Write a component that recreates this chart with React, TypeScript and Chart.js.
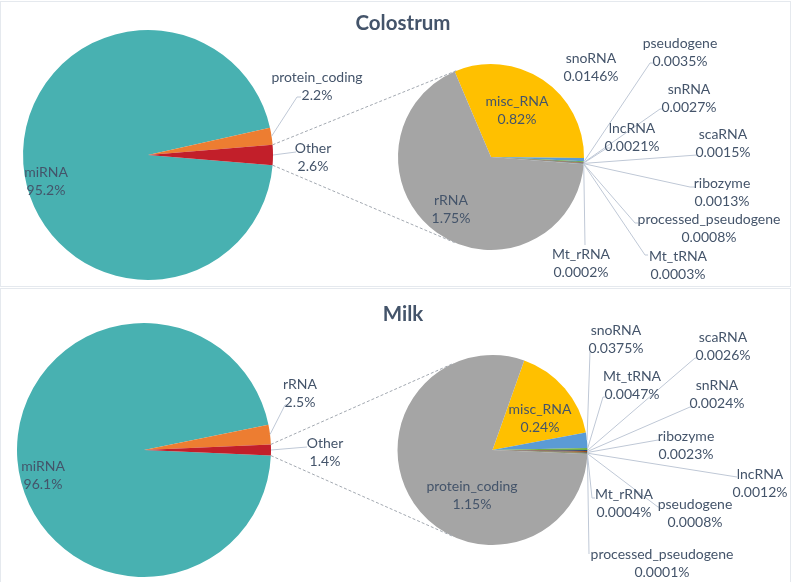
import React, { useEffect, useRef } from "react";
import { Chart, registerables } from "chart.js";

Chart.register(...registerables);

const W = 793;
const H = 582;

// ---------- Colostrum ----------
const colTitle = "Colostrum";
const colMainNames = ["miRNA", "protein_coding", "Other"];
const colMainValues = [95.2, 2.2, 2.6];
const colMainTexts = ["95.2%", "2.2%", "2.6%"];

const colSubNames = ["misc_RNA", "snoRNA", "pseudogene", "snRNA", "lncRNA", "scaRNA", "ribozyme", "processed_pseudogene", "Mt_tRNA", "Mt_rRNA", "rRNA"];
const colSubValues = [0.82, 0.0146, 0.0035, 0.0027, 0.0021, 0.0015, 0.0013, 0.0008, 0.0003, 0.0002, 1.75];
const colSubTexts = ["0.82%", "0.0146%", "0.0035%", "0.0027%", "0.0021%", "0.0015%", "0.0013%", "0.0008%", "0.0003%", "0.0002%", "1.75%"];

// ---------- Milk ----------
const milkTitle = "Milk";
const milkMainNames = ["miRNA", "rRNA", "Other"];
const milkMainValues = [96.1, 2.5, 1.4];
const milkMainTexts = ["96.1%", "2.5%", "1.4%"];

const milkSubNames = ["misc_RNA", "snoRNA", "Mt_tRNA", "scaRNA", "snRNA", "ribozyme", "lncRNA", "pseudogene", "Mt_rRNA", "processed_pseudogene", "protein_coding"];
const milkSubValues = [0.24, 0.0375, 0.0047, 0.0026, 0.0024, 0.0023, 0.0012, 0.0008, 0.0004, 0.0001, 1.15];
const milkSubTexts = ["0.24%", "0.0375%", "0.0047%", "0.0026%", "0.0024%", "0.0023%", "0.0012%", "0.0008%", "0.0004%", "0.0001%", "1.15%"];

// ---------- styles ----------
const FONT = "Lato, 'Open Sans', sans-serif";
const TEXT_COLOR = "#44546A";
const LEADER_COLOR = "#BFC8D6";
const CONNECTOR_COLOR = "#A3A9B1";
const MAIN_COLORS = ["#48B1B1", "#ED7D31", "#C21F2A"];
const SMALL_COLORS = ["#5B9BD5", "#70AD47", "#264478", "#9E480E", "#636363", "#997300", "#255E91", "#43682B", "#698ED0"];
const SUB_COLORS = ["#FFC000", ...SMALL_COLORS, "#A5A5A5"];

type Spot = { i: number; x: number; y: number; lead?: number[][] };

type PieLayout = { cx: number; cy: number; r: number; rotation: number };

const colMainLayout: PieLayout = { cx: 148, cy: 155, r: 125, rotation: 90 + (colMainValues[2] / 100) * 180 };
const colSubLayout: PieLayout = { cx: 491, cy: 157, r: 93, rotation: -23 };
const milkMainLayout: PieLayout = { cx: 144, cy: 450, r: 127, rotation: 90 + (milkMainValues[2] / 100) * 180 };
const milkSubLayout: PieLayout = { cx: 492.5, cy: 450, r: 95, rotation: 19.5 };

const colMainSpots: Spot[] = [
  { i: 0, x: 46, y: 172 },
  { i: 1, x: 317, y: 77, lead: [[297, 97], [301, 97]] },
  { i: 2, x: 313, y: 148, lead: [[296, 152]] },
];
const colSubSpots: Spot[] = [
  { i: 0, x: 517, y: 101 },
  { i: 10, x: 451, y: 200 },
  { i: 1, x: 591, y: 58 },
  { i: 2, x: 680, y: 43, lead: [[650, 63], [654, 63]] },
  { i: 3, x: 689, y: 89, lead: [[660, 109], [663, 109]] },
  { i: 4, x: 632, y: 128, lead: [[607, 148], [610, 148]] },
  { i: 5, x: 723, y: 134, lead: [[697, 155]] },
  { i: 6, x: 722, y: 183, lead: [[690, 187], [695, 187]] },
  { i: 7, x: 709, y: 219, lead: [[635, 223], [638, 223]] },
  { i: 8, x: 678, y: 256, lead: [[645, 255], [648, 255]] },
  { i: 9, x: 581, y: 254, lead: [[585, 245]] },
];
const milkMainSpots: Spot[] = [
  { i: 0, x: 43, y: 466 },
  { i: 1, x: 300, y: 384, lead: [[285, 405], [288, 405]] },
  { i: 2, x: 325, y: 443, lead: [[307, 447]] },
];
const milkSubSpots: Spot[] = [
  { i: 0, x: 540, y: 409 },
  { i: 10, x: 472, y: 486 },
  { i: 1, x: 616, y: 330, lead: [[590, 352]] },
  { i: 2, x: 632, y: 376, lead: [[603, 397], [606, 397]] },
  { i: 3, x: 723, y: 337, lead: [[695, 358], [698, 358]] },
  { i: 4, x: 717, y: 385, lead: [[690, 407], [693, 407]] },
  { i: 5, x: 686, y: 436, lead: [[658, 440], [661, 440]] },
  { i: 6, x: 760, y: 474, lead: [[737, 477]] },
  { i: 7, x: 695, y: 504, lead: [[658, 507], [661, 507]] },
  { i: 8, x: 624, y: 494, lead: [[592, 498], [595, 498]] },
  { i: 9, x: 662, y: 554, lead: [[589, 554]] },
];

function drawLabels(chart: any, names: string[], texts: string[], spots: Spot[]) {
  const ctx = chart.ctx as CanvasRenderingContext2D;
  const arcs = chart.getDatasetMeta(0).data as any[];
  ctx.save();
  ctx.strokeStyle = LEADER_COLOR;
  ctx.lineWidth = 1;
  spots.forEach((s) => {
    if (!s.lead) return;
    const a = arcs[s.i].getProps(["x", "y", "startAngle", "endAngle", "outerRadius"], true);
    const mid = (a.startAngle + a.endAngle) / 2;
    ctx.beginPath();
    ctx.moveTo(a.x + Math.cos(mid) * a.outerRadius, a.y + Math.sin(mid) * a.outerRadius);
    s.lead.forEach((p) => ctx.lineTo(p[0], p[1]));
    ctx.stroke();
  });
  ctx.fillStyle = TEXT_COLOR;
  ctx.font = `14px ${FONT}`;
  ctx.textAlign = "center";
  ctx.textBaseline = "middle";
  spots.forEach((s) => {
    ctx.fillText(names[s.i], s.x, s.y);
    ctx.fillText(texts[s.i], s.x, s.y + 18);
  });
  ctx.restore();
}

function makePie(
  canvas: HTMLCanvasElement,
  names: string[],
  values: number[],
  colors: string[],
  layout: PieLayout,
  plugin: any
) {
  return new Chart(canvas, {
    type: "pie",
    data: {
      labels: names,
      datasets: [
        {
          data: values,
          backgroundColor: colors,
          borderWidth: 0,
          hoverOffset: 0,
        },
      ],
    },
    options: {
      responsive: false,
      animation: false,
      rotation: layout.rotation,
      radius: layout.r,
      layout: {
        padding: {
          left: layout.cx - layout.r,
          right: W - layout.cx - layout.r,
          top: layout.cy - layout.r,
          bottom: H - layout.cy - layout.r,
        },
      },
      plugins: {
        legend: { display: false },
        tooltip: { enabled: false },
        title: { display: false },
      },
      events: [],
    } as any,
    plugins: [plugin],
  });
}

function mainPlugin(title: string, ty: number, names: string[], texts: string[], spots: Spot[]) {
  return {
    id: "mainLabels",
    afterDatasetsDraw(chart: any) {
      drawLabels(chart, names, texts, spots);
      const ctx = chart.ctx as CanvasRenderingContext2D;
      ctx.save();
      ctx.fillStyle = TEXT_COLOR;
      ctx.font = `bold 20.5px ${FONT}`;
      ctx.textAlign = "center";
      ctx.textBaseline = "middle";
      ctx.fillText(title, 403, ty);
      ctx.restore();
    },
  };
}

function subPlugin(getMain: () => any, names: string[], texts: string[], spots: Spot[]) {
  return {
    id: "subLabels",
    afterDatasetsDraw(chart: any) {
      const main = getMain();
      const ctx = chart.ctx as CanvasRenderingContext2D;
      if (main) {
        const mArcs = main.getDatasetMeta(0).data as any[];
        const o = mArcs[mArcs.length - 1].getProps(["x", "y", "startAngle", "endAngle", "outerRadius"], true);
        const s = chart.getDatasetMeta(0).data[0].getProps(["x", "y", "outerRadius"], true);
        const starts = [o.startAngle, o.endAngle].map((ang: number) => ({
          x: o.x + Math.cos(ang) * o.outerRadius,
          y: o.y + Math.sin(ang) * o.outerRadius,
        }));
        ctx.save();
        ctx.strokeStyle = CONNECTOR_COLOR;
        ctx.lineWidth = 1;
        ctx.setLineDash([3, 2]);
        starts.forEach((p, k) => {
          const dx = p.x - s.x;
          const dy = p.y - s.y;
          const d = Math.hypot(dx, dy);
          const phi = Math.atan2(dy, dx);
          const th = Math.acos(Math.min(1, s.outerRadius / d));
          const cands = [phi + th, phi - th].map((a) => ({
            x: s.x + Math.cos(a) * s.outerRadius,
            y: s.y + Math.sin(a) * s.outerRadius,
          }));
          cands.sort((a, b) => a.y - b.y);
          const t = k === 0 ? cands[0] : cands[1];
          ctx.beginPath();
          ctx.moveTo(p.x, p.y);
          ctx.lineTo(t.x, t.y);
          ctx.stroke();
        });
        ctx.restore();
      }
      drawLabels(chart, names, texts, spots);
    },
  };
}

export default function App() {
  const c1 = useRef<HTMLCanvasElement>(null);
  const c2 = useRef<HTMLCanvasElement>(null);
  const c3 = useRef<HTMLCanvasElement>(null);
  const c4 = useRef<HTMLCanvasElement>(null);

  useEffect(() => {
    const charts: Chart[] = [];
    const colMain = makePie(
      c1.current!,
      colMainNames,
      colMainValues,
      MAIN_COLORS,
      colMainLayout,
      mainPlugin(colTitle, 23, colMainNames, colMainTexts, colMainSpots)
    );
    charts.push(colMain);
    charts.push(
      makePie(
        c2.current!,
        colSubNames,
        colSubValues,
        SUB_COLORS,
        colSubLayout,
        subPlugin(() => colMain, colSubNames, colSubTexts, colSubSpots)
      )
    );
    const milkMain = makePie(
      c3.current!,
      milkMainNames,
      milkMainValues,
      MAIN_COLORS,
      milkMainLayout,
      mainPlugin(milkTitle, 314, milkMainNames, milkMainTexts, milkMainSpots)
    );
    charts.push(milkMain);
    charts.push(
      makePie(
        c4.current!,
        milkSubNames,
        milkSubValues,
        SUB_COLORS,
        milkSubLayout,
        subPlugin(() => milkMain, milkSubNames, milkSubTexts, milkSubSpots)
      )
    );
    return () => charts.forEach((c) => c.destroy());
  }, []);

  const cv: React.CSSProperties = { position: "absolute", left: 0, top: 0, width: W, height: H };
  return (
    <div style={{ position: "absolute", left: 0, top: 0, width: W, height: H, background: "#fff", overflow: "hidden" }}>
      <div style={{ position: "absolute", left: 0, top: 1, width: 789, height: 284, border: "1px solid #E5E9EE" }} />
      <div style={{ position: "absolute", left: 0, top: 288, width: 789, height: 300, border: "1px solid #E5E9EE" }} />
      <canvas ref={c1} width={W} height={H} style={cv} />
      <canvas ref={c2} width={W} height={H} style={cv} />
      <canvas ref={c3} width={W} height={H} style={cv} />
      <canvas ref={c4} width={W} height={H} style={cv} />
    </div>
  );
}
